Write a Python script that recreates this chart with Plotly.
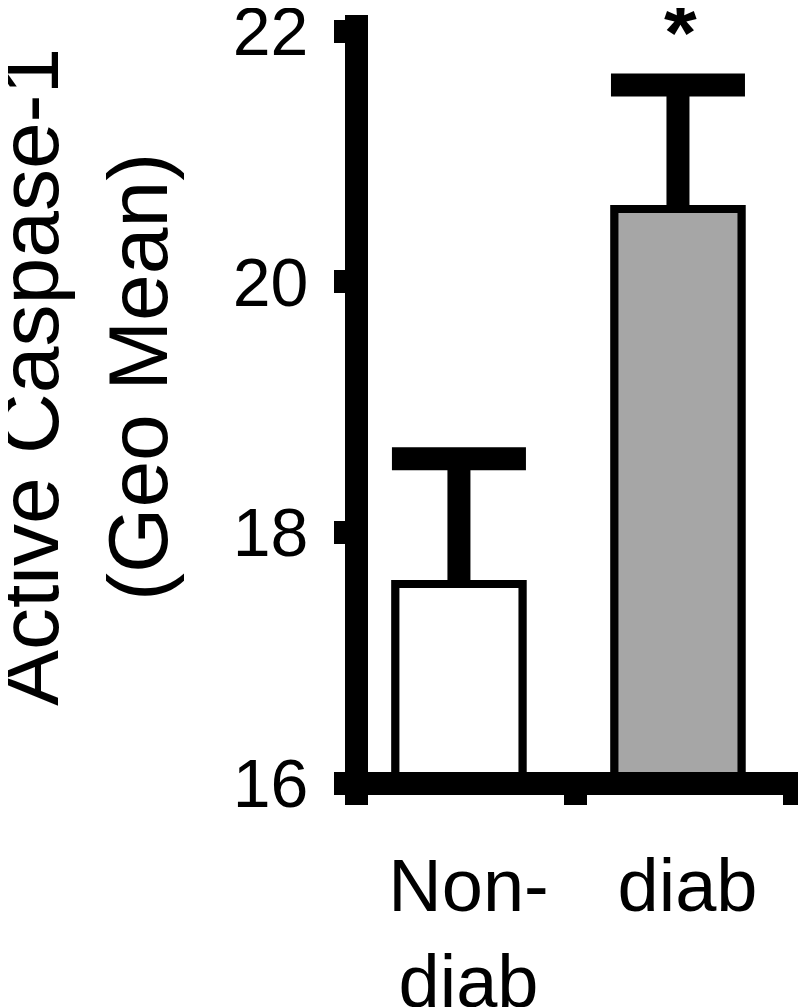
import plotly.graph_objects as go

# ---- data ----
categories = ["Non-<br>diab", "diab"]
means = [17.59, 20.58]
sem_upper = [1.0, 0.99]
bar_colors = ["#ffffff", "#a6a6a6"]
y_tickvals = [16, 18, 20, 22]
significance = ["", "*"]
y_title = "Active Caspase-1<br>(Geo Mean)"

# ---- styling / layout ----
FONT = "Liberation Sans, Arial, Helvetica, sans-serif"
AXW = 23                      # thick axis line width
Y_AXIS_RANGE = [15.908, 22.128]
X_AXIS_RANGE = [-0.5, 1.55]
BAR_W = 0.58
BAR_OFFSET = -0.32

fig = go.Figure()

# error bars (upper arm shown above bars; lower arm hidden behind bars/axis)
fig.add_trace(go.Bar(
    x=categories, y=means, width=BAR_W, offset=BAR_OFFSET,
    marker=dict(color=bar_colors, line=dict(color="black", width=8)),
    error_y=dict(type="data", symmetric=False, array=sem_upper,
                 arrayminus=[m - y_tickvals[0] for m in means],
                 color="black", thickness=AXW, width=67),
    showlegend=False, hoverinfo="skip",
))
# bars drawn on top
fig.add_trace(go.Bar(
    x=categories, y=means, width=BAR_W, offset=BAR_OFFSET,
    marker=dict(color=bar_colors, line=dict(color="black", width=8)),
    showlegend=False,
))

for cat, m, e, s in zip(categories, means, sem_upper, significance):
    if s:
        fig.add_annotation(x=cat, y=m + e, text="<b>%s</b>" % s, showarrow=False,
                           yanchor="bottom", yshift=3, xshift=-4,
                           font=dict(family=FONT, size=84, color="black"))

fig.add_annotation(text=y_title, textangle=-90, xref="paper", yref="paper",
                   x=-0.6058, y=0.5359, xanchor="center", yanchor="middle",
                   showarrow=False,
                   font=dict(family=FONT, size=84, color="black"))

fig.update_layout(
    width=806, height=1007,
    margin=dict(l=348, r=9, t=7, b=220, autoexpand=False),
    paper_bgcolor="white", plot_bgcolor="white",
    barmode="overlay",
    font=dict(family=FONT, color="black"),
)
fig.update_xaxes(
    type="category", range=X_AXIS_RANGE, automargin=False,
    anchor="free", position=0.01538,
    showline=True, linewidth=AXW, linecolor="black",
    ticks="outside", tickson="boundaries", ticklen=10, tickwidth=AXW, tickcolor="black",
    tickfont=dict(family=FONT, size=74, color="black"),
    ticklabelstandoff=27, ticklabelshift=3,
    showgrid=False, zeroline=False,
)
fig.update_yaxes(
    range=Y_AXIS_RANGE, tickvals=y_tickvals, automargin=False,
    anchor="free", position=0,
    showline=True, linewidth=AXW, linecolor="black",
    ticks="outside", ticklen=11, tickwidth=AXW, tickcolor="black",
    tickfont=dict(family=FONT, size=68, color="black"),
    ticklabelstandoff=12, ticklabeloverflow="allow",
    showgrid=False, zeroline=False,
)

fig.write_html("out.html")
